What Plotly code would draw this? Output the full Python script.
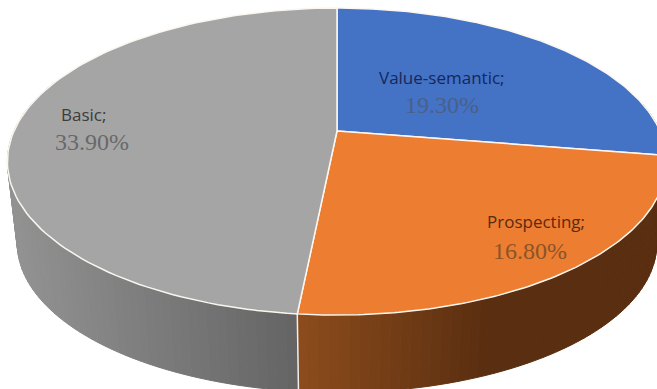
import numpy as np
import plotly.graph_objects as go

categories = ["Value-semantic", "Prospecting", "Basic"]
values = [19.3, 16.8, 33.9]
pct_labels = ["19.30%", "16.80%", "33.90%"]
colors = ["#4472c4", "#ed7d31", "#a5a5a5"]
label_colors = ["#14285c", "#5a2a0c", "#3c3c3c"]
pct_colors = ["#4a5f8c", "#8a5428", "#696969"]
# label anchor (centre x, y) in page pixels
label_xy = [(442, 77), (536, 221), (83, 114)]
pct_xy = [(442, 105), (530, 251), (92, 142)]

W, H = 657, 389
CX, CY, A, B, K = 337.0, 131.0, 323.0, 147.4, 0.199
S2, D2 = 0.97, 83.0


def rim(t_deg, scale=1.0, dy=0.0):
    """Project a rim angle (clockwise from the top) through the perspective."""
    t = np.radians(np.asarray(t_deg, dtype=float))
    X, Y = np.sin(t), np.cos(t)
    w = 1 + K * Y
    return CX + scale * A * X / w, CY + dy - scale * B * Y / w


def lerp(c1, c2, f):
    f = max(0.0, min(1.0, f))
    return "rgb(%d,%d,%d)" % tuple(round(a + (b - a) * f) for a, b in zip(c1, c2))


shares = np.array(values) / sum(values) * 360
ends = np.concatenate([[0], np.cumsum(shares)])


def side_colour(t):
    x = float(rim(t)[0])
    if t < ends[2]:  # orange slice side
        return lerp((140, 76, 28), (90, 46, 16), (x - 298) / 190)
    return lerp((100, 100, 100), (146, 146, 146), (298 - x) / 285)


fig = go.Figure()

# side wall: narrow strips, each coloured along the gradient
edges = np.arange(ends[1] - 20, 292, 1.5)
edges = np.unique(np.concatenate([edges, [ends[2]]]))
for t0, t1 in zip(edges[:-1], edges[1:]):
    tt = np.linspace(t0, t1, 3)
    xa, ya = rim(tt)
    xb, yb = rim(tt[::-1], S2, D2)
    col = side_colour((t0 + t1) / 2)
    fig.add_trace(go.Scatter(x=np.r_[xa, xb, xa[0]], y=np.r_[ya, yb, ya[0]], mode="lines",
                             fill="toself", fillcolor=col, line=dict(color=col, width=1),
                             hoverinfo="skip"))

# separator on the wall between the orange and the gray slices
xa, ya = rim([ends[2]])
xb, yb = rim([ends[2]], S2, D2)
fig.add_trace(go.Scatter(x=[xa[0], xb[0]], y=[ya[0], yb[0]], mode="lines",
                         line=dict(color="#f4efe6", width=1.5), hoverinfo="skip"))

# top face slices
for i, c in enumerate(colors):
    tt = np.linspace(ends[i], ends[i + 1], 120)
    x, y = rim(tt)
    fig.add_trace(go.Scatter(x=np.r_[CX, x, CX], y=np.r_[CY, y, CY], mode="lines",
                             fill="toself", fillcolor=c, line=dict(color="#fbf7f0", width=1.5),
                             hoverinfo="skip", name=categories[i]))

for i, cat in enumerate(categories):
    fig.add_annotation(x=label_xy[i][0], y=label_xy[i][1], text=cat + ";", showarrow=False,
                       font=dict(family="Open Sans", size=17, color=label_colors[i]))
    fig.add_annotation(x=pct_xy[i][0], y=pct_xy[i][1], text=pct_labels[i], showarrow=False,
                       font=dict(family="Liberation Serif", size=24, color=pct_colors[i]))

fig.update_layout(width=W, height=H, margin=dict(l=0, r=0, t=0, b=0), showlegend=False,
                  paper_bgcolor="white", plot_bgcolor="white",
                  xaxis=dict(range=[0, W], visible=False, fixedrange=True),
                  yaxis=dict(range=[H, 0], visible=False, fixedrange=True))
fig.write_html("out.html", config={"displayModeBar": False},
               post_script="document.body.style.margin='0';document.body.style.overflow='hidden';")
